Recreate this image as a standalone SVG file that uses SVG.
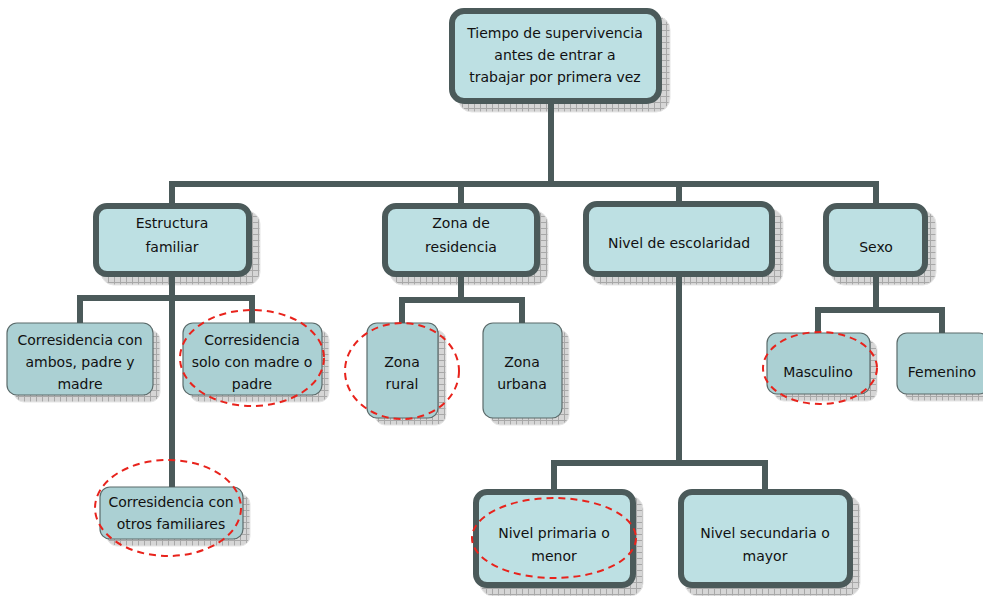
<svg xmlns="http://www.w3.org/2000/svg" width="983" height="596" viewBox="0 0 983 596">
<defs>
<pattern id="grid" width="6" height="6" patternUnits="userSpaceOnUse">
<rect width="6" height="6" fill="#d6d6d6"/>
<path d="M0 0.5H6M0.5 0V6" stroke="#a8a8a8" stroke-width="1"/>
</pattern>
<style>
.sh{fill:url(#grid);stroke:#e6e6e6;stroke-width:1}
.main{fill:#bde0e3;stroke:#4b5a5a;stroke-width:6}
.leaf{fill:#abd0d3;stroke:#5b6b6b;stroke-width:1.2}
.t{font-family:"DejaVu Sans",Verdana,sans-serif;font-size:14px;fill:#111;text-anchor:middle}
.con{fill:none;stroke:#4b5a5a;stroke-width:6;stroke-linecap:square}
.mark{fill:none;stroke:#e8231c;stroke-width:2;stroke-dasharray:7 5}
</style>
</defs>
<rect width="983" height="596" fill="#fff"/>

<g id="root">
<rect class="sh" x="458" y="16" width="212" height="96" rx="14"/>
<rect class="main" x="452" y="11" width="207" height="90" rx="12"/>
<text class="t" x="555" y="38">Tiempo de supervivencia</text>
<text class="t" x="555" y="60">antes de entrar a</text>
<text class="t" x="555" y="82">trabajar por primera vez</text>
</g>

<g id="estructura">
<rect class="sh" x="101" y="211" width="159" height="74" rx="13"/>
<rect class="main" x="96" y="206" width="153" height="68" rx="11"/>
<text class="t" x="172" y="228">Estructura</text>
<text class="t" x="172" y="252">familiar</text>
</g>

<g id="zona">
<rect class="sh" x="390" y="211" width="158" height="74" rx="13"/>
<rect class="main" x="385" y="206" width="152" height="68" rx="11"/>
<text class="t" x="461" y="228">Zona de</text>
<text class="t" x="461" y="252">residencia</text>
</g>

<g id="nivel">
<rect class="sh" x="591" y="209" width="192" height="76" rx="13"/>
<rect class="main" x="586" y="204" width="186" height="70" rx="11"/>
<text class="t" x="679" y="248">Nivel de escolaridad</text>
</g>

<g id="sexo">
<rect class="sh" x="831" y="211" width="105" height="74" rx="13"/>
<rect class="main" x="826" y="206" width="99" height="68" rx="11"/>
<text class="t" x="876" y="252">Sexo</text>
</g>

<g id="ambos">
<rect class="sh" x="14" y="330" width="146" height="72" rx="10"/>
<rect class="leaf" x="7" y="323" width="146" height="72" rx="10"/>
<text class="t" x="80" y="345">Corresidencia con</text>
<text class="t" x="80" y="367">ambos, padre y</text>
<text class="t" x="80" y="389">madre</text>
</g>

<g id="solo">
<rect class="sh" x="190" y="330" width="139" height="72" rx="10"/>
<rect class="leaf" x="183" y="323" width="139" height="72" rx="10"/>
<text class="t" x="252" y="345">Corresidencia</text>
<text class="t" x="252" y="367">solo con madre o</text>
<text class="t" x="252" y="389">padre</text>
</g>

<g id="otros">
<rect class="sh" x="107" y="494" width="143" height="52" rx="10"/>
<rect class="leaf" x="100" y="487" width="143" height="52" rx="10"/>
<text class="t" x="171" y="507">Corresidencia con</text>
<text class="t" x="171" y="529">otros familiares</text>
</g>

<g id="rural">
<rect class="sh" x="375" y="330" width="71" height="95" rx="10"/>
<rect class="leaf" x="367" y="323" width="71" height="95" rx="10"/>
<text class="t" x="402" y="367">Zona</text>
<text class="t" x="402" y="389">rural</text>
</g>

<g id="urbana">
<rect class="sh" x="490" y="330" width="79" height="95" rx="10"/>
<rect class="leaf" x="483" y="323" width="79" height="95" rx="10"/>
<text class="t" x="522" y="367">Zona</text>
<text class="t" x="522" y="389">urbana</text>
</g>

<g id="primaria">
<rect class="sh" x="480" y="496" width="163" height="100" rx="13"/>
<rect class="main" x="476" y="492" width="157" height="93" rx="11"/>
<text class="t" x="554" y="538">Nivel primaria o</text>
<text class="t" x="554" y="561">menor</text>
</g>

<g id="secundaria">
<rect class="sh" x="685" y="496" width="175" height="100" rx="13"/>
<rect class="main" x="681" y="492" width="169" height="93" rx="11"/>
<text class="t" x="765" y="538">Nivel secundaria o</text>
<text class="t" x="765" y="561">mayor</text>
</g>

<g id="masculino">
<rect class="sh" x="774" y="340" width="103" height="61" rx="10"/>
<rect class="leaf" x="767" y="333" width="103" height="61" rx="10"/>
<text class="t" x="818" y="377">Masculino</text>
</g>

<g id="femenino">
<rect class="sh" x="904" y="340" width="92" height="61" rx="10"/>
<rect class="leaf" x="897" y="333" width="92" height="61" rx="10"/>
<text class="t" x="942" y="377">Femenino</text>
</g>

<g id="connectors" class="con">
<path d="M551 107V184"/>
<path d="M172 184H876"/>
<path d="M172 187V203M461 187V203M679 187V201M876 187V203"/>
<path d="M172 277V484"/>
<path d="M80 298H252M80 301V320M252 301V320"/>
<path d="M461 277V300M402 300H522M402 303V320M522 303V320"/>
<path d="M679 277V463M554 463H765M554 466V486M765 466V486"/>
<path d="M876 277V310M818 310H942M818 313V330M942 313V330"/>
</g>

<g id="highlights" class="mark">
<ellipse cx="252" cy="358" rx="72" ry="48"/>
<ellipse cx="168" cy="508" rx="73" ry="48"/>
<ellipse cx="402" cy="371" rx="57" ry="48"/>
<ellipse cx="554" cy="538" rx="82" ry="40"/>
<ellipse cx="820" cy="368" rx="57" ry="36"/>
</g>
</svg>
